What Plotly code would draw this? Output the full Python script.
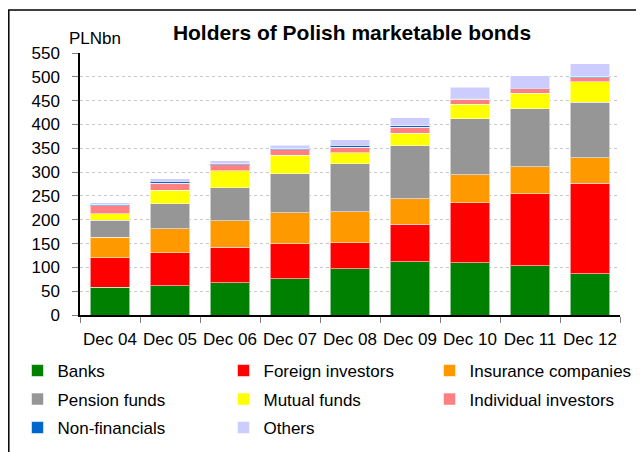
import plotly.graph_objects as go

categories = ["Dec 04", "Dec 05", "Dec 06", "Dec 07", "Dec 08", "Dec 09", "Dec 10", "Dec 11", "Dec 12"]

banks = [58, 61.5, 68, 76, 97, 112, 110, 103, 87]
foreign = [62, 69, 74, 74, 55, 79, 126, 152, 190]
insurance = [43.5, 51, 56, 64.5, 64.5, 53, 58.5, 56, 53]
pension = [35.5, 52, 69.5, 82.5, 100.5, 111, 117.5, 122, 116.5]
mutual = [13.5, 28, 35, 38.5, 23.5, 26.5, 30, 32.5, 43]
individual = [16.5, 15.5, 12.5, 11, 12, 12.5, 11, 9, 9]
nonfin = [2, 3.5, 3, 2, 3.5, 3.5, 2.5, 2, 1.5]
others = [5, 5.5, 6, 8, 12, 17, 23, 26, 27]

series = [
    ("Banks", banks, "#008000"),
    ("Foreign investors", foreign, "#FF0000"),
    ("Insurance companies", insurance, "#FF9900"),
    ("Pension funds", pension, "#969696"),
    ("Mutual funds", mutual, "#FFFF00"),
    ("Individual investors", individual, "#FF8080"),
    ("Non-financials", nonfin, "#0066CC"),
    ("Others", others, "#CCCCFF"),
]

FONT = "Liberation Sans, Arial, sans-serif"

# page is rendered with an 8px body margin; layout coordinates below are in page pixels
OFF = 8
W, H = 644 - OFF, 452 - OFF
PL, PR, PT, PB = 80, 620, 53, 315  # plot area in page pixels


def xpx(px):
    return (px - PL) / (PR - PL)


def ypx(py):
    return (PB - py) / (PB - PT)


LEG_COLS = [17.5, 223.5, 429.5]
LEG_ROWS = [371, 399.5, 428]

fig = go.Figure()
legends = {}
for i, (name, vals, col) in enumerate(series):
    key = "legend" if i == 0 else f"legend{i + 1}"
    fig.add_trace(go.Bar(
        x=categories, y=vals, name=name, legend=key,
        marker=dict(color=col, line=dict(color="rgba(255,255,255,0.55)", width=1)),
    ))
    legends[key] = dict(orientation="h", x=xpx(LEG_COLS[i % 3]), xanchor="left",
                        y=ypx(LEG_ROWS[i // 3]), yanchor="middle",
                        font=dict(family=FONT, size=17, color="black"),
                        bgcolor="rgba(0,0,0,0)", itemclick=False, itemdoubleclick=False)

fig.update_layout(
    width=W, height=H,
    barmode="stack", bargap=0.34,
    paper_bgcolor="white", plot_bgcolor="white",
    margin=dict(l=PL - OFF, r=W - (PR - OFF), t=PT - OFF, b=H - (PB - OFF), autoexpand=False),
    font=dict(family=FONT, size=17, color="black"),
    title=dict(text="Holders of Polish marketable bonds", x=(352 - OFF) / W, xanchor="center",
               y=1 - (33 - OFF) / H, yanchor="middle",
               font=dict(family=FONT, size=21, weight="bold", color="black")),
    showlegend=True,
    xaxis=dict(type="category", showline=True, linecolor="black", linewidth=1.5,
               ticks="outside", tickson="boundaries", ticklen=6, tickcolor="#808080",
               ticklabelstandoff=8, showgrid=False, tickangle=0, automargin=False,
               tickfont=dict(family=FONT, size=17, color="black")),
    yaxis=dict(range=[0, 550], dtick=50, showline=True, linecolor="black", linewidth=1.5,
               ticks="outside", ticklen=6, tickcolor="#808080", ticklabelstandoff=9,
               showgrid=True, gridcolor="#c8c8c8", griddash="dot", gridwidth=1,
               zeroline=False, automargin=False,
               tickfont=dict(family=FONT, size=17, color="black")),
    annotations=[dict(text="PLNbn", xref="paper", yref="paper", x=xpx(67), y=ypx(38),
                      xanchor="left", yanchor="middle", showarrow=False,
                      font=dict(family=FONT, size=17, color="black"))],
    shapes=[dict(type="rect", xref="paper", yref="paper",
                 x0=xpx(8.8), x1=xpx(670), y0=ypx(480), y1=ypx(10),
                 line=dict(color="black", width=1.5), fillcolor="rgba(0,0,0,0)")],
    **legends,
)

fig.write_html("out.html")
